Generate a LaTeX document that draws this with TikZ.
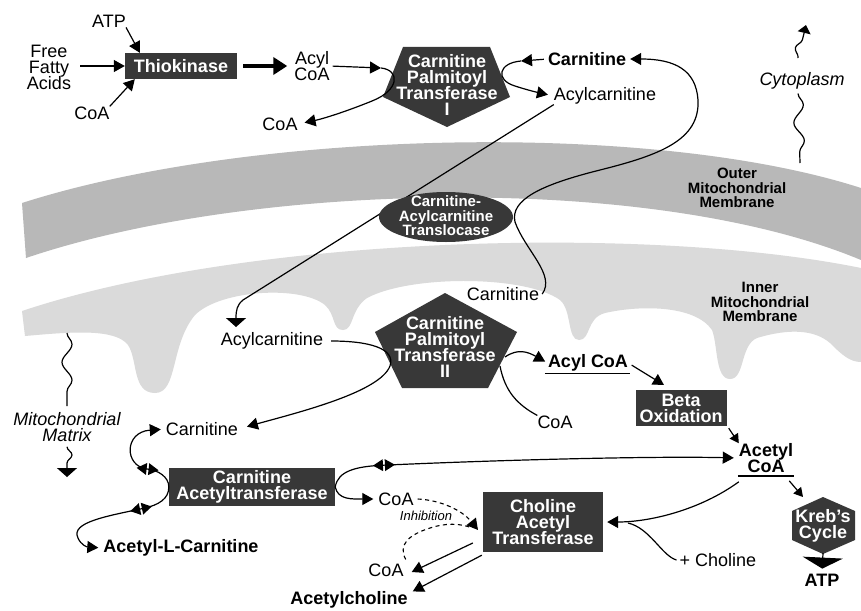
\documentclass[tikz,border=0pt]{standalone}
\usepackage{fontspec}
\setmainfont{Liberation Sans}
\usetikzlibrary{arrows.meta,decorations.pathmorphing,decorations.markings}
\definecolor{enz}{HTML}{383838}
\definecolor{outerm}{HTML}{B8B8B8}
\definecolor{innerm}{HTML}{DADADA}
\newcommand{\figfont}{\fontsize{18}{16}\selectfont\lineskiplimit=-20pt}
\newcommand{\membfont}{\fontsize{15}{14.5}\selectfont\lineskiplimit=-20pt}
\begin{document}
\begin{tikzpicture}[x=1pt,y=-1pt,
    txt/.style={inner sep=0pt, align=center, font=\figfont},
    btxt/.style={txt, font=\figfont\bfseries},
    itxt/.style={txt, font=\figfont\itshape},
    memb/.style={txt, font=\membfont\bfseries},
    enzyme/.style={fill=enz, text=white, inner sep=0pt, align=center, font=\figfont\bfseries},
    conn/.style={line width=1.2pt},
    arr/.style={conn, -{Triangle[length=11pt,width=12pt]}},
    flatarr/.style={conn, -{Triangle[length=9pt,width=20pt]}},
    wavy/.style={conn, decorate, decoration={snake, amplitude=5pt, segment length=36pt}},
    uline/.style={line width=1.6pt},
    inhib/.style={line width=1.1pt, dash pattern=on 4pt off 3.5pt},
    revmark/.style={postaction={decorate, decoration={markings, mark=at position #1 with {
        \fill[-] (1pt,-6pt) -- (11pt,0pt) -- (1pt,6pt) -- cycle;
        \fill[-] (-1pt,-6pt) -- (-11pt,0pt) -- (-1pt,6pt) -- cycle;}}}}]
\useasboundingbox (0,0) rectangle (861,610);
\fill[white] (0,0) rectangle (861,610);
\fill[outerm] (22,203) .. controls (250,130) and (650,120) .. (861,188) -- (861,260)
    .. controls (650,172) and (250,182) .. (26,258) -- cycle;
\fill[innerm] (25,336) .. controls (70,332) and (115,328) .. (128,345)
    .. controls (138,360) and (132,393) .. (155,393) .. controls (178,393) and (170,345) .. (195,315)
    .. controls (220,290) and (300,285) .. (325,305) .. controls (336,315) and (332,330) .. (343,330)
    .. controls (354,330) and (350,310) .. (367,298) .. controls (410,275) and (525,275) .. (560,300)
    .. controls (572,310) and (567,340) .. (579,340) .. controls (591,340) and (586,318) .. (605,313)
    .. controls (640,305) and (695,305) .. (712,330) .. controls (718,345) and (715,379) .. (730,379)
    .. controls (745,379) and (740,345) .. (757,338) .. controls (790,328) and (815,330) .. (830,343)
    .. controls (842,355) and (850,362) .. (861,362) -- (861,268)
    .. controls (650,225) and (250,235) .. (22,311) -- cycle;
\fill[enz] (403,47) -- (490,47) -- (510,97) -- (447,127) -- (383,97) -- cycle;
\fill[enz] (445,293) -- (517,332) -- (488,388) -- (402,388) -- (375,332) -- cycle;
\fill[enz] (823,497) -- (855,511) -- (855,540) -- (823,554) -- (792,540) -- (792,511) -- cycle;

\node[txt] (atp1) at (109,21) {ATP};
\node[txt] (ffa) at (49,67) {Free\\Fatty\\Acids};
\node[txt] (coa1) at (92,113) {CoA};
\node[enzyme, minimum width=112pt, minimum height=26pt] (thio) at (181,66) {Thiokinase};
\node[txt] (acylcoa1) at (312,66) {Acyl\\CoA};
\node[enzyme, fill=none] (cpt1) at (447,85) {Carnitine\\Palmitoyl\\Transferase\\I};
\node[txt] (coa2) at (280,124) {CoA};
\node[btxt] (carn1) at (587,59) {Carnitine};
\node[txt] (acylcarn1) at (605,96) {Acylcarnitine};
\node[itxt] (cyto) at (802,81) {Cytoplasm};
\node[memb] (outer) at (737,188) {Outer\\Mitochondrial\\Membrane};
\node[memb] (inner) at (760,302) {Inner\\Mitochondrial\\Membrane};
\node[txt] (carn2) at (503,294) {Carnitine};
\node[txt] (acylcarn2) at (272,341) {Acylcarnitine};
\node[enzyme, fill=none] (cpt2) at (445,347) {Carnitine\\Palmitoyl\\Transferase\\II};
\node[btxt] (acylcoa2) at (588,363) {Acyl CoA};
\node[txt] (coa3) at (555,422) {CoA};
\node[enzyme, minimum width=91pt, minimum height=36pt] (beta) at (681,408) {Beta\\Oxidation};
\node[btxt] (acetylcoa) at (766,458) {Acetyl\\CoA};
\node[enzyme, fill=none] (krebs) at (823,526) {Kreb's\\Cycle};
\node[btxt] (atp2) at (822,580) {ATP};
\node[itxt] (matrix) at (67,427) {Mitochondrial\\Matrix};
\node[txt] (carn3) at (202,429) {Carnitine};
\node[enzyme, minimum width=166pt, minimum height=38pt] (cat) at (252,487) {Carnitine\\Acetyltransferase};
\node[btxt] (alc) at (181,548) {Acetyl-L-Carnitine};
\node[txt] (coa4) at (396,499) {CoA};
\node[txt, font=\fontsize{13}{13}\selectfont\itshape] (inh) at (426,516) {Inhibition};
\node[enzyme, minimum width=120pt, minimum height=60pt] (chat) at (543,522) {Choline\\Acetyl\\Transferase};
\node[txt] (choline) at (718,560) {+ Choline};
\node[txt] (coa5) at (386,570) {CoA};
\node[btxt] (ach) at (349,600) {Acetylcholine};

\coordinate (cpt1in) at (381,68);
\coordinate (cpt1out) at (521,61);
\coordinate (ac2top) at (236,327);
\coordinate (cpt2e) at (505,357);
\coordinate (cpt2se) at (500,366);
\coordinate (betain) at (664,385);
\coordinate (krebsin) at (803,497);
\coordinate (krebsbot) at (823,553);
\coordinate (chatin) at (478,530);

\draw[arr] (atp1.south east) -- ([xshift=15pt]thio.north west);
\draw[arr, shorten <=9pt] (ffa.east |- thio.west) -- (thio.west);
\draw[arr] (coa1.north east) -- ([xshift=10pt]thio.south west);
\draw[line width=4pt, -{Triangle[length=14pt,width=17pt]}, shorten <=6pt, shorten >=7pt] (thio.east) -- (acylcoa1.west |- thio.east);
\draw[arr, shorten <=3pt] (acylcoa1.east) -- (cpt1in);
\draw[arr, shorten >=7pt] (cpt1in) .. controls (400,70) and (400,90) .. (372,101) .. controls (345,112) and (322,119) .. (coa2.east);
\draw[arr, shorten <=4pt] (carn1.west) -- (cpt1out);
\draw[arr, shorten >=6pt] (cpt1out) .. controls (498,63) and (495,80) .. (515,86) .. controls (527,90) and (540,93) .. (acylcarn1.west);
\draw[arr, shorten >=4pt] ([xshift=3pt]carn2.east) .. controls (556,275) and (525,250) .. (515,222)
    .. controls (510,200) and (540,185) .. (600,170) .. controls (660,155) and (700,140) .. (698,100)
    .. controls (696,70) and (675,59) .. (carn1.east);
\draw[flatarr] (acylcarn1.south west) -- (243,300) .. controls (237,305) and (236,310) .. (ac2top);
\draw[arr, shorten <=8pt, shorten >=9pt] (acylcarn2.east) .. controls (368,341) and (396,348) .. (390,366)
    .. controls (380,392) and (300,412) .. (carn3.east);
\draw[arr, shorten >=3pt] (cpt2e) .. controls (518,348) and (528,352) .. (acylcoa2.west);
\draw[conn] (cpt2se) .. controls (505,392) and (518,405) .. (coa3.north west);
\draw[uline] ([xshift=-3pt,yshift=-2pt]acylcoa2.south west) -- ([xshift=2pt,yshift=-2pt]acylcoa2.south east);
\draw[arr, shorten <=4pt] (acylcoa2.east) -- (betain);
\draw[conn, -{Triangle[length=9pt,width=10pt]}] ([xshift=2pt,yshift=-2pt]beta.south east) -- (acetylcoa.north west);
\draw[uline] ([xshift=-1pt,yshift=-3pt]acetylcoa.south west) -- ([xshift=1pt,yshift=-3pt]acetylcoa.south east);
\draw[conn, -{Triangle[length=9pt,width=10pt]}] ([xshift=-4pt,yshift=-8pt]acetylcoa.south east) -- (krebsin);
\draw[conn, -{Triangle[length=11pt,width=40pt]}, shorten >=5pt] (krebsbot) -- (atp2.north);
\draw[arr] ([yshift=-9pt]acetylcoa.south west) .. controls (700,510) and (650,522) .. ([xshift=4pt]chat.east);
\draw[conn] ([xshift=-3pt]choline.west) .. controls (662,556) and (650,528) .. (628,523);
\draw[wavy] (67,333) -- ([yshift=6pt]matrix.north);
\draw[wavy, flatarr, decoration={segment length=26pt, post length=9pt}] ([yshift=-5pt]matrix.south) -- (67,477);
\draw[wavy, conn, -{Triangle[length=8pt,width=13pt]}, decoration={segment length=30pt, post length=8pt}] (798,58) -- (806,25);
\draw[wavy] ([yshift=-4pt,xshift=-4pt]cyto.south) -- (800,163);
\draw[arr, revmark=0.3, shorten >=5pt] (cat.west) .. controls (169,477) and (158,470) .. (147,469)
    .. controls (124,466) and (124,432) .. (carn3.west);
\draw[arr, revmark=0.27, shorten >=5pt] (cat.west) .. controls (169,499) and (158,505) .. (145,508)
    .. controls (108,516) and (70,522) .. (78,538) .. controls (81,545) and (87,547) .. (alc.west);
\draw[arr, revmark=0.14, shorten >=5pt] (cat.east) .. controls (338,471) and (355,466) .. (388,465)
    .. controls (500,460) and (650,456) .. (acetylcoa.west);
\draw[arr, shorten >=5pt] (cat.east) .. controls (338,500) and (352,499) .. (coa4.west);
\draw[inhib, -{Triangle[length=11pt,width=12pt]}] ([xshift=4pt]coa4.east) .. controls (440,500) and (462,510) .. (chatin);
\draw[inhib] ([xshift=2pt,yshift=4pt]coa5.north east) .. controls (398,545) and (408,535) .. (430,528)
    .. controls (445,523) and (460,523) .. (472,528);
\draw[arr] ([xshift=-10pt,yshift=-21pt]chat.west) -- ([xshift=8pt,yshift=-2pt]coa5.east);
\draw[arr] ([xshift=-1pt,yshift=-3pt]chat.south west) -- ([xshift=5pt]ach.north east);

\fill[enz] (446,217) ellipse [x radius=67pt, y radius=25pt];
\node[memb, text=white] (trans) at (446,216) {Carnitine-\\Acylcarnitine\\Translocase};
\end{tikzpicture}
\end{document}
